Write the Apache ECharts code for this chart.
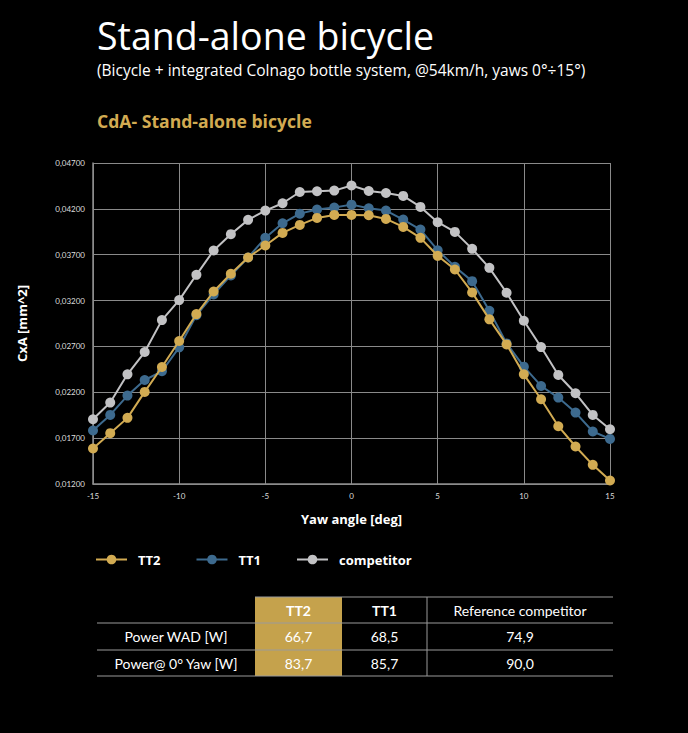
<!DOCTYPE html>
<html>
<head>
<meta charset="utf-8">
<script src="https://cdn.jsdelivr.net/npm/echarts@6/dist/echarts.min.js"></script>
<style>
    html, body { margin: 0; padding: 0; background: #000; }
    #main { width: 688px; height: 733px; }
</style>
</head>
<body>
<div id="main"></div>
<script>
    //---数据定义区----------------------------------
    var yawAngles = [-15, -14, -13, -12, -11, -10, -9, -8, -7, -6, -5, -4, -3, -2, -1, 0,
        1, 2, 3, 4, 5, 6, 7, 8, 9, 10, 11, 12, 13, 14, 15];

    var cdaTT2 = [0.01587, 0.01754, 0.01921, 0.02204, 0.02476, 0.02759, 0.03053, 0.03299,
        0.03492, 0.03670, 0.03800, 0.03938, 0.04025, 0.04101, 0.04134, 0.04134,
        0.04130, 0.04090, 0.04003, 0.03884, 0.03688, 0.03539, 0.03289, 0.02995,
        0.02722, 0.02396, 0.02124, 0.01830, 0.01609, 0.01409, 0.01238];

    var cdaTT1 = [0.01783, 0.01953, 0.02164, 0.02334, 0.02429, 0.02690, 0.03040, 0.03267,
        0.03474, 0.03670, 0.03884, 0.04043, 0.04148, 0.04192, 0.04214, 0.04246,
        0.04207, 0.04181, 0.04083, 0.03974, 0.03749, 0.03568, 0.03412, 0.03089,
        0.02733, 0.02479, 0.02269, 0.02142, 0.01979, 0.01772, 0.01692];

    var cdaCompetitor = [0.01906, 0.02088, 0.02396, 0.02639, 0.02987, 0.03205, 0.03481, 0.03746,
        0.03924, 0.04080, 0.04181, 0.04261, 0.04384, 0.04392, 0.04399, 0.04455,
        0.04395, 0.04373, 0.04341, 0.04221, 0.04054, 0.03949, 0.03764, 0.03557,
        0.03285, 0.02980, 0.02693, 0.02389, 0.02189, 0.01953, 0.01797];

    var seriesNames = ['TT2', 'TT1', 'competitor'];

    var tableHeader = ['TT2', 'TT1', 'Reference competitor'];
    var tableRowLabels = ['Power WAD [W]', 'Power@ 0° Yaw [W]'];
    var powerTT2 = [66.7, 83.7];
    var powerTT1 = [68.5, 85.7];
    var powerCompetitor = [74.9, 90.0];

    //---常量定义区----------------------------------
    var FONT = 'Lato, "Noto Sans", sans-serif';
    var WIDE_FONT = '"Open Sans", "Noto Sans", sans-serif';
    var GOLD = '#d2ab52';
    var BLUE = '#3d6a8e';
    var GREY = '#c2c2c4';
    var GRID_LINE = '#8a8a8a';

    //---工具函数----------------------------------
    function zip(xs, ys) {
        return xs.map(function (x, i) { return [x, ys[i]]; });
    }

    function comma(v, digits) {
        return v.toFixed(digits).replace('.', ',');
    }

    function makeSeries(name, values, color, z) {
        return {
            name: name,
            type: 'line',
            data: zip(yawAngles, values),
            symbol: 'circle',
            symbolSize: 10,
            z: z,
            lineStyle: { color: color, width: 2 },
            itemStyle: { color: color },
            emphasis: { disabled: true },
            animation: false
        };
    }

    // table built as graphic elements
    function makeTable() {
        var cols = [97, 255, 342, 427, 613];
        var rows = [597, 623, 650, 676];
        var els = [];
        var text = function (x, y, str, bold) {
            els.push({
                type: 'text', x: x, y: y,
                style: {
                    text: str, fill: '#fff', align: 'center', verticalAlign: 'middle',
                    font: (bold ? 'bold ' : '') + '14px ' + FONT
                }
            });
        };
        var line = function (x1, y1, x2, y2) {
            els.push({
                type: 'line',
                shape: { x1: x1, y1: y1, x2: x2, y2: y2 },
                style: { stroke: '#9a9a9a', lineWidth: 1 }
            });
        };
        els.push({
            type: 'rect',
            shape: { x: cols[1], y: rows[0], width: cols[2] - cols[1], height: rows[3] - rows[0] },
            style: { fill: '#c5a24c' }
        });
        line(cols[1], rows[0], cols[4], rows[0]);
        line(cols[0], rows[1], cols[4], rows[1]);
        line(cols[0], rows[2], cols[4], rows[2]);
        line(cols[0], rows[3], cols[4], rows[3]);
        line(cols[3], rows[0], cols[3], rows[3]);

        var cx = function (c) { return (cols[c] + cols[c + 1]) / 2; };
        var cy = function (r) { return (rows[r] + rows[r + 1]) / 2; };
        text(cx(1), cy(0), tableHeader[0], true);
        text(cx(2), cy(0), tableHeader[1], true);
        text(cx(3), cy(0), tableHeader[2], false);
        tableRowLabels.forEach(function (label, i) {
            text(cx(0), cy(i + 1), label, false);
            text(cx(1), cy(i + 1), comma(powerTT2[i], 1), false);
            text(cx(2), cy(i + 1), comma(powerTT1[i], 1), false);
            text(cx(3), cy(i + 1), comma(powerCompetitor[i], 1), false);
        });
        return els;
    }

    //---初始化----------------------------------
    function init() {
        var chart = echarts.init(document.getElementById('main'), null, { renderer: 'svg' });
        chart.setOption({
            backgroundColor: '#000',
            animation: false,
            textStyle: { fontFamily: FONT },
            title: [{
                text: 'Stand-alone bicycle',
                left: 92, top: 11,
                textStyle: { color: '#fff', fontSize: 37.5, fontWeight: 'normal', fontFamily: WIDE_FONT }
            }, {
                text: '(Bicycle + integrated Colnago bottle system, @54km/h, yaws 0°÷15°)',
                left: 92, top: 57,
                textStyle: { color: '#fff', fontSize: 15.5, fontWeight: 'normal', fontFamily: WIDE_FONT }
            }, {
                text: 'CdA- Stand-alone bicycle',
                left: 92, top: 107,
                textStyle: { color: GOLD, fontSize: 17.6, fontWeight: 'bold', fontFamily: WIDE_FONT }
            }],
            legend: {
                data: seriesNames,
                left: 90, top: 548,
                itemWidth: 31, itemHeight: 12,
                itemGap: 35,
                textStyle: {
                    color: '#fff', fontSize: 13, fontWeight: 'bold', fontFamily: WIDE_FONT,
                    padding: [0, 0, 0, 6]
                },
                selectedMode: false
            },
            grid: { left: 93, right: 78, top: 163, bottom: 249 },
            xAxis: {
                type: 'value',
                min: -15, max: 15, interval: 5,
                name: 'Yaw angle [deg]',
                nameLocation: 'middle',
                nameGap: 28,
                nameTextStyle: { color: '#fff', fontSize: 13, fontWeight: 'bold', fontFamily: WIDE_FONT },
                axisLine: { onZero: false, lineStyle: { color: '#8c8c8c', width: 1.5 } },
                axisTick: { show: false },
                axisLabel: { color: '#ddd', fontSize: 8, margin: 8 },
                splitLine: { lineStyle: { color: GRID_LINE, width: 1 } }
            },
            yAxis: {
                type: 'value',
                min: 0.012, max: 0.047, interval: 0.005,
                name: 'CxA [mm^2]',
                nameLocation: 'middle',
                nameGap: 65,
                nameTextStyle: { color: '#fff', fontSize: 13, fontWeight: 'bold', fontFamily: WIDE_FONT },
                axisLine: { show: true, onZero: false, lineStyle: { color: '#8c8c8c', width: 1.5 } },
                axisTick: { show: false },
                axisLabel: {
                    color: '#ddd', fontSize: 8, margin: 8,
                    formatter: function (v) { return comma(v, 5); }
                },
                splitLine: { lineStyle: { color: GRID_LINE, width: 1 } }
            },
            series: [
                makeSeries('competitor', cdaCompetitor, GREY, 2),
                makeSeries('TT1', cdaTT1, BLUE, 3),
                makeSeries('TT2', cdaTT2, GOLD, 4)
            ],
            graphic: makeTable()
        });
    }

    init();
</script>
</body>
</html>
